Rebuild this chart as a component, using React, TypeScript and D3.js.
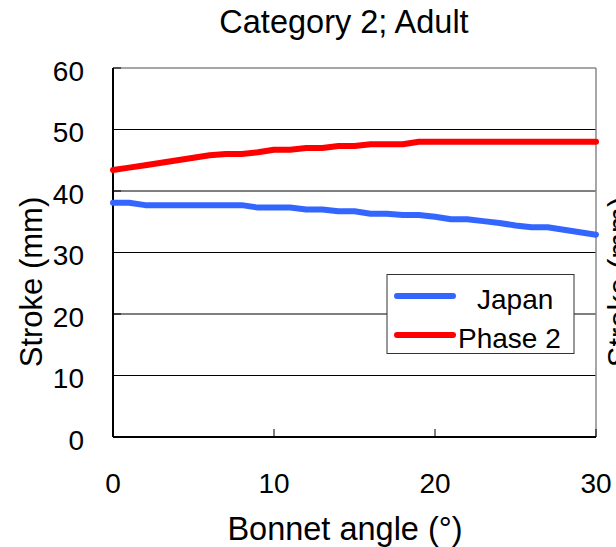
import * as d3 from "d3";
import React, { useEffect, useRef } from "react";

// bonnet angle (deg)
const angles = [0, 1, 2, 3, 4, 5, 6, 7, 8, 9, 10, 11, 12, 13, 14, 15, 16, 17, 18, 19, 20, 21, 22, 23, 24, 25, 26, 27, 28, 29, 30];
// stroke (mm)
const japan = [38.1, 38.1, 37.7, 37.7, 37.7, 37.7, 37.7, 37.7, 37.7, 37.3, 37.3, 37.3, 37.0, 37.0, 36.7, 36.7, 36.3, 36.3, 36.1, 36.1, 35.8, 35.4, 35.4, 35.1, 34.8, 34.4, 34.1, 34.1, 33.7, 33.3, 32.9];
const phase2 = [43.4, 43.8, 44.2, 44.6, 45.0, 45.4, 45.8, 46.0, 46.0, 46.3, 46.7, 46.7, 47.0, 47.0, 47.3, 47.3, 47.6, 47.6, 47.6, 48.0, 48.0, 48.0, 48.0, 48.0, 48.0, 48.0, 48.0, 48.0, 48.0, 48.0, 48.0];

const seriesNames = ["Japan", "Phase 2"];
const seriesColors = ["#3366ff", "#ff0000"];
const xTicks = [0, 10, 20, 30];
const yTicks = [0, 10, 20, 30, 40, 50, 60];

const FONT = "'Liberation Sans', Arial, sans-serif";

const App = () => {
  const svgRef = useRef<SVGSVGElement>(null);

  useEffect(() => {
    const svg = d3.select(svgRef.current);
    svg.selectAll("*").remove();

    const left = 113;
    const right = 596;
    const top = 68;
    const bottom = 437;

    const x = d3.scaleLinear().domain([0, 30]).range([left, right]);
    const y = d3.scaleLinear().domain([0, 60]).range([bottom, top]);

    const g = svg.append("g").attr("font-family", FONT);

    // gridlines
    g.selectAll(".grid")
      .data(yTicks.filter((v) => v > 0 && v < 60))
      .enter()
      .append("line")
      .attr("x1", left)
      .attr("x2", right)
      .attr("y1", (d) => y(d))
      .attr("y2", (d) => y(d))
      .attr("stroke", "#000")
      .attr("stroke-width", 1);

    // top / right border
    g.append("line")
      .attr("x1", left).attr("x2", right)
      .attr("y1", top).attr("y2", top)
      .attr("stroke", "#888").attr("stroke-width", 1.5);
    g.append("line")
      .attr("x1", right).attr("x2", right)
      .attr("y1", top).attr("y2", bottom)
      .attr("stroke", "#888").attr("stroke-width", 1.5);

    // axes
    g.append("line")
      .attr("x1", left).attr("x2", left)
      .attr("y1", top).attr("y2", bottom)
      .attr("stroke", "#000").attr("stroke-width", 2);
    g.append("line")
      .attr("x1", left).attr("x2", right)
      .attr("y1", bottom).attr("y2", bottom)
      .attr("stroke", "#000").attr("stroke-width", 2);

    // ticks
    g.selectAll(".ytick")
      .data(yTicks)
      .enter()
      .append("line")
      .attr("x1", left)
      .attr("x2", left + 8)
      .attr("y1", (d) => y(d))
      .attr("y2", (d) => y(d))
      .attr("stroke", "#000");
    g.selectAll(".xtick")
      .data(xTicks)
      .enter()
      .append("line")
      .attr("x1", (d) => x(d))
      .attr("x2", (d) => x(d))
      .attr("y1", bottom)
      .attr("y2", bottom - 8)
      .attr("stroke", "#000");

    // tick labels
    g.selectAll(".ylab")
      .data(yTicks)
      .enter()
      .append("text")
      .attr("x", left - 29)
      .attr("y", (d) => y(d) + 3)
      .attr("dy", "0.35em")
      .attr("text-anchor", "end")
      .attr("font-size", 28)
      .text((d) => d);
    g.selectAll(".xlab")
      .data(xTicks)
      .enter()
      .append("text")
      .attr("x", (d) => x(d))
      .attr("y", 493)
      .attr("text-anchor", "middle")
      .attr("font-size", 28)
      .text((d) => d);

    // series
    const line = d3
      .line<number>()
      .x((d, i) => x(angles[i]))
      .y((d) => y(d));

    [japan, phase2].forEach((values, i) => {
      g.append("path")
        .attr("d", line(values))
        .attr("fill", "none")
        .attr("stroke", seriesColors[i])
        .attr("stroke-width", 6)
        .attr("stroke-linecap", "round")
        .attr("stroke-linejoin", "round");
    });

    // legend
    const legend = g.append("g");
    legend
      .append("rect")
      .attr("x", 387)
      .attr("y", 274.5)
      .attr("width", 187)
      .attr("height", 79)
      .attr("fill", "#fff")
      .attr("stroke", "#333")
      .attr("stroke-width", 1);
    const legendText = [477, 458];
    seriesNames.forEach((name, i) => {
      const ly = 296 + i * 39;
      legend
        .append("line")
        .attr("x1", 397)
        .attr("x2", 453)
        .attr("y1", ly)
        .attr("y2", ly)
        .attr("stroke", seriesColors[i])
        .attr("stroke-width", 6)
        .attr("stroke-linecap", "round");
      legend
        .append("text")
        .attr("x", legendText[i])
        .attr("y", ly + 13)
        .attr("font-size", 28)
        .text(name);
    });

    // titles
    g.append("text")
      .attr("x", 344)
      .attr("y", 33)
      .attr("text-anchor", "middle")
      .attr("font-size", 32.5)
      .text("Category 2; Adult");
    g.append("text")
      .attr("x", 345)
      .attr("y", 540)
      .attr("text-anchor", "middle")
      .attr("font-size", 32.5)
      .text("Bonnet angle (°)");
    g.append("text")
      .attr("transform", "translate(42,282) rotate(-90)")
      .attr("text-anchor", "middle")
      .attr("font-size", 31)
      .text("Stroke (mm)");
    g.append("text")
      .attr("transform", "translate(630,282) rotate(-90)")
      .attr("text-anchor", "middle")
      .attr("font-size", 31)
      .text("Stroke (mm)");
  }, []);

  return (
    <svg
      ref={svgRef}
      width={616}
      height={547}
      style={{ position: "absolute", left: 0, top: 0, background: "#fff" }}
    ></svg>
  );
};

export default App;
